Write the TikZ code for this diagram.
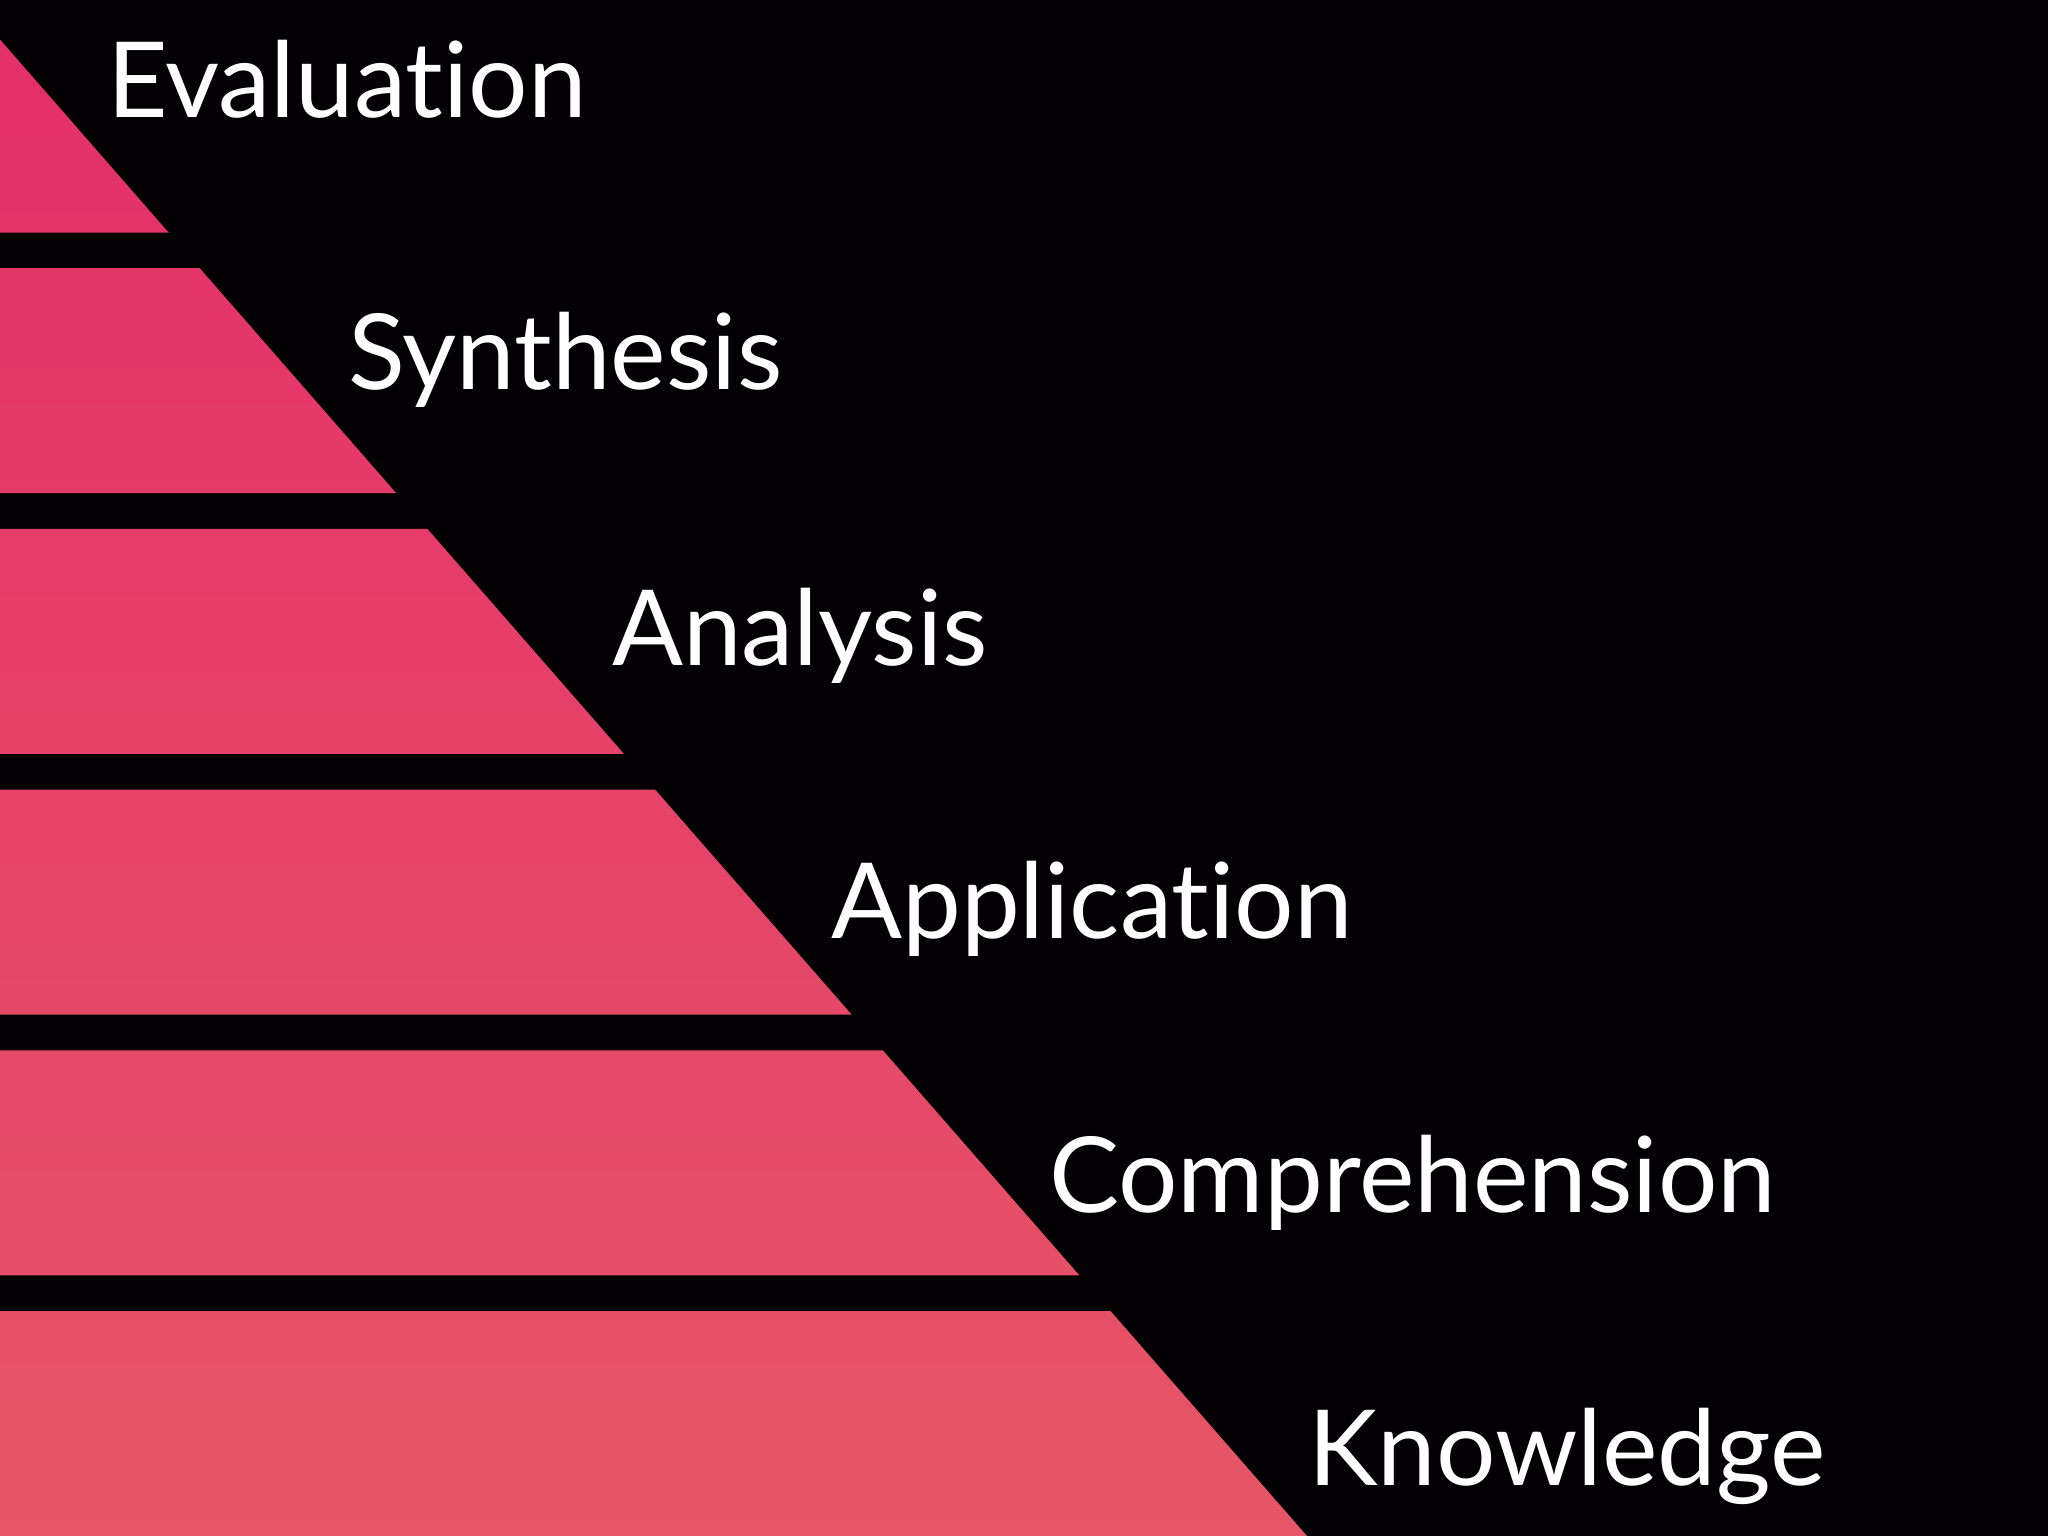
\documentclass[tikz,border=0pt]{standalone}
\usepackage{fontspec}
\setmainfont{Lato}[Ligatures=NoCommon]
\definecolor{bgblack}{HTML}{020003}
\definecolor{pinktop}{HTML}{E42E6A}
\definecolor{pinkbot}{HTML}{E65667}
\begin{document}
\begin{tikzpicture}[x=1pt,y=-1pt,
  lvl/.style={anchor=base west,inner sep=0pt,text=white,font=\fontsize{105}{105}\selectfont}]
\fill[bgblack] (0,0) rectangle (2048,1536);
\useasboundingbox (0,0) rectangle (2048,1536);
\begin{scope}
\clip (0,39.5) -- (1307,1536) -- (0,1536) -- cycle;
\shade[top color=pinktop,bottom color=pinkbot]
  (0,0) rectangle (1400,232.5)
  (0,268.2) rectangle (1400,493.2)
  (0,528.9) rectangle (1400,753.9)
  (0,789.6) rectangle (1400,1014.6)
  (0,1050.3) rectangle (1400,1275.3)
  (0,1311) rectangle (1400,1536);
\end{scope}
\node[lvl] (eval) at (107,117.5) {Evaluation};
\node[lvl] (synt) at (348,389) {Synthesis};
\node[lvl] (anal) at (612,665) {Analysis};
\node[lvl] (appl) at (831,938) {Application};
\node[lvl] (comp) at (1049,1212) {Comprehension};
\node[lvl] (know) at (1308,1485) {Knowledge};
\end{tikzpicture}
\end{document}
